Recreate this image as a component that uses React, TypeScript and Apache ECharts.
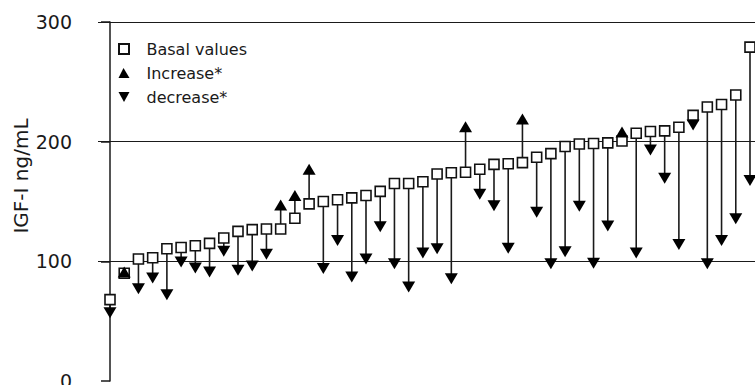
import React, { useEffect, useRef } from "react";
import * as echarts from "echarts";

// Basal IGF-I values (ng/mL), sorted ascending, and the value after treatment
const basal = [68, 90, 102, 103, 110.5, 111.5, 113, 115, 119.5, 125, 126.5, 127, 127, 136, 148, 150, 151.5, 153, 155, 158.5, 165, 165, 166.5, 173, 174, 174.5, 177, 181, 181.5, 182.5, 187, 190, 196, 198, 198.5, 199, 200.5, 207, 208.5, 209, 212, 222, 229, 231, 239, 279];
const after = [57, 91, 77, 86, 72, 99.5, 94.5, 91, 108.5, 92.5, 96, 106, 147, 155, 177, 94, 117.5, 87, 102, 129, 98, 78.5, 107, 110.5, 85.5, 212.5, 156, 146.5, 111, 219, 141, 98, 108, 146, 98.5, 129.5, 208, 107, 193, 169.5, 114, 214, 98, 117.5, 135.5, 167.5];
const yTicks = [0, 100, 200, 300];
const seriesNames = ["Basal values", "Increase*", "decrease*"];
const yName = "IGF-I ng/mL";

const FONT = "DejaVu Sans";

export default function App() {
  const ref = useRef<HTMLDivElement>(null);
  useEffect(() => {
    const chart = echarts.init(ref.current!, null, { renderer: "svg" });
    const idx = basal.map((_, i) => i);
    const arrows = idx.map((i) => [i, basal[i], after[i]]);
    const ups = idx.filter((i) => after[i] > basal[i]).map((i) => [i, after[i]]);
    const downs = idx.filter((i) => after[i] <= basal[i]).map((i) => [i, after[i]]);
    chart.setOption({
      animation: false,
      grid: { left: 98, right: 0, top: 22, bottom: 4, containLabel: false, outerBoundsMode: "none" },
      xAxis: {
        type: "value",
        min: -0.8437,
        max: 45.352,
        show: false,
      },
      yAxis: {
        type: "value",
        min: yTicks[0],
        max: yTicks[yTicks.length - 1],
        interval: 100,
        offset: 8,
        axisLine: { show: true, lineStyle: { color: "#1a1a1a", width: 1.5 } },
        axisTick: { show: true, length: 9, lineStyle: { color: "#1a1a1a", width: 1.5 } },
        axisLabel: { margin: 18, fontFamily: FONT, fontSize: 19, color: "#1a1a1a" },
        splitLine: { show: true, showMinLine: false, lineStyle: { color: "#1a1a1a", width: 1.2 } },
      },
      graphic: [
        {
          type: "text",
          x: 21,
          y: 176,
          rotation: Math.PI / 2,
          style: {
            text: yName,
            fontFamily: FONT,
            fontSize: 20,
            fill: "#1a1a1a",
            align: "center",
            verticalAlign: "middle",
          },
        },
      ],
      legend: {
        orient: "vertical",
        left: 118,
        top: 41,
        padding: 0,
        itemWidth: 13,
        itemHeight: 10,
        itemGap: 8,
        textStyle: { fontFamily: FONT, fontSize: 16, color: "#1a1a1a", lineHeight: 16, padding: [0, 0, 0, 11] },
        data: [
          { name: seriesNames[0], icon: "path://M0,0H10V10H0Z" },
          { name: seriesNames[1], icon: "path://M5,0L11,10L0,10Z" },
          { name: seriesNames[2], icon: "path://M0,0L11,0L5.5,10Z" },
        ],
      },
      series: [
        {
          type: "custom",
          name: "arrows",
          z: 2,
          data: arrows,
          encode: { x: 0, y: [1, 2] },
          renderItem: (params: any, api: any) => {
            const p1 = api.coord([api.value(0), api.value(1)]);
            const p2 = api.coord([api.value(0), api.value(2)]);
            return {
              type: "line",
              shape: { x1: p1[0], y1: p1[1], x2: p2[0], y2: p2[1] },
              style: { stroke: "#1a1a1a", lineWidth: 1.6 },
            };
          },
        },
        {
          type: "scatter",
          name: seriesNames[0],
          z: 3,
          symbol: "rect",
          symbolSize: 10,
          itemStyle: { color: "#ffffff", borderColor: "#111", borderWidth: 1.6, opacity: 1 },
          data: basal.map((b, i) => [i, b]),
        },
        {
          type: "scatter",
          name: seriesNames[1],
          z: 4,
          symbol: "triangle",
          symbolSize: [13, 11],
          itemStyle: { color: "#000", opacity: 1 },
          data: ups,
        },
        {
          type: "scatter",
          name: seriesNames[2],
          z: 4,
          symbol: "triangle",
          symbolRotate: 180,
          symbolSize: [13, 11],
          itemStyle: { color: "#000", opacity: 1 },
          data: downs,
        },
      ],
    });
    return () => chart.dispose();
  }, []);
  return (
    <div
      ref={ref}
      style={{ position: "fixed", left: 0, top: 0, width: 755, height: 385, background: "#fff" }}
    />
  );
}
